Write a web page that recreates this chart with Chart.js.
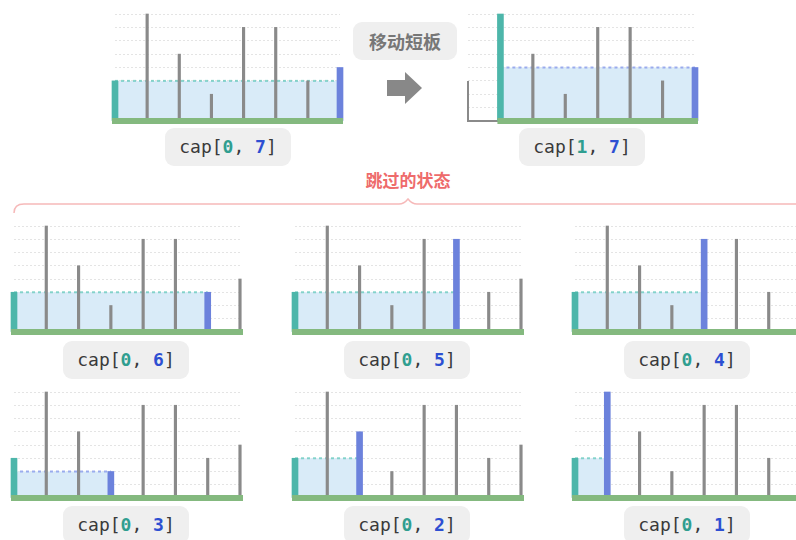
<!DOCTYPE html>
<html>
<head>
<meta charset="utf-8">
<script src="https://cdn.jsdelivr.net/npm/chart.js@4.4.0/dist/chart.umd.min.js"></script>
<style>
  html, body { margin: 0; padding: 0; background: #fff; }
  body { width: 796px; height: 540px; position: relative; overflow: hidden; }
  canvas { position: absolute; }
  .cap {
    position: absolute; width: 126px; height: 38px; line-height: 38px;
    background: #efefef; border-radius: 9px; text-align: center;
    font-family: "DejaVu Sans Mono", monospace; font-size: 18px; color: #3a3a3a;
  }
  .cap .l { color: #2f9e90; font-weight: bold; }
  .cap .r { color: #2d4fd2; font-weight: bold; }
  .tag {
    position: absolute; left: 353px; top: 22px; width: 104px; height: 38px; line-height: 38px;
    background: #efefef; border-radius: 9px; text-align: center;
    font-family: "Noto Sans CJK SC", sans-serif; font-weight: bold; font-size: 18px; color: #777;
  }
  .skip {
    position: absolute; left: 308px; top: 167px; width: 200px; text-align: center;
    font-family: "Noto Sans CJK SC", sans-serif; font-weight: bold; font-size: 17px; color: #ee6b6b;
  }
  svg { position: absolute; left: 0; top: 0; }
</style>
</head>
<body>
<svg width="796" height="540">
  <polygon points="387,80 405,80 405,72 422,88 405,104 405,96 387,96" fill="#888"/>
  <path d="M14,213 Q14,204 24,204 L399,204 Q404,204 408,199 Q412,204 417,204 L800,204"
        fill="none" stroke="#f6b9b9" stroke-width="1.5"/>
</svg>
<div class="tag">移动短板</div>
<div class="skip">跳过的状态</div>

<script>
// bar heights, index 0..7
const heights = [3, 8, 5, 2, 7, 7, 3, 4];
const positions = [0, 1, 2, 3, 4, 5, 6, 7];
const levels = [0, 1, 2, 3, 4, 5, 6, 7, 8];

// one entry per panel
const leftPtr = [0, 1, 0, 0, 0, 0, 0, 0];
const rightPtr = [7, 7, 6, 5, 4, 3, 2, 1];
const removedBar = [null, 0, null, null, null, null, null, null];

// chart area of each panel on the page (left, right, top, bottom)
const panelBoxes = [
  [115, 340, 14, 121],
  [468, 695, 14, 121],
  [14, 240, 226, 332],
  [295, 521, 226, 332],
  [575, 801, 226, 332],
  [14, 240, 392, 498],
  [295, 521, 392, 498],
  [575, 801, 392, 498]
];
const labelBoxes = [
  [165, 128], [519, 128],
  [63, 341], [344, 341], [624, 341],
  [63, 506], [344, 506], [624, 506]
];

const teal = '#4db6aa';
const blue = '#6c82dc';
const gray = '#8a8a8a';
const green = '#84b97f';
const water = '#d9ebf8';
const tealDot = 'rgba(100,200,188,0.75)';
const blueDot = 'rgba(130,150,235,0.75)';

function makePanel(i) {
  const [L, R, T, B] = panelBoxes[i];
  const pad = 10;
  const cv = document.createElement('canvas');
  cv.width = R - L + 2 * pad;
  cv.height = B - T + 2 * pad;
  cv.style.left = (L - pad) + 'px';
  cv.style.top = (T - pad) + 'px';
  document.body.appendChild(cv);

  const l = leftPtr[i], r = rightPtr[i];
  const level = Math.min(heights[l], heights[r]);
  const dotColor = heights[l] <= heights[r] ? tealDot : blueDot;
  const rm = removedBar[i];

  const grayBars = positions
    .filter(k => k !== l && k !== r && k !== rm)
    .map(k => ({ x: k, y: heights[k] }));

  const datasets = [
    {
      type: 'line', order: 0, clip: false,
      data: [{ x: rm === null ? 0 : rm + 1, y: 0 }, { x: positions[positions.length - 1], y: 0 }],
      borderColor: green, borderWidth: 6, borderCapStyle: 'square', pointRadius: 0
    },
    {
      type: 'bar', order: 1, clip: false, grouped: false,
      data: [{ x: l, y: heights[l] }], backgroundColor: teal, barThickness: 6
    },
    {
      type: 'bar', order: 1, clip: false, grouped: false,
      data: [{ x: r, y: heights[r] }], backgroundColor: blue, barThickness: 6
    },
    {
      type: 'bar', order: 2, clip: false, grouped: false,
      data: grayBars, backgroundColor: gray, barThickness: 2.5
    },
    {
      type: 'line', order: 3, clip: false,
      data: [{ x: l, y: level }, { x: r, y: level }],
      borderColor: dotColor, borderWidth: 2, borderDash: [3, 3],
      backgroundColor: water, fill: 'origin', pointRadius: 0
    }
  ];
  if (rm !== null) {
    datasets.push({
      type: 'line', order: 1, clip: false,
      data: [{ x: rm, y: heights[rm] }, { x: rm, y: 0 }, { x: rm + 1, y: 0 }],
      borderColor: gray, borderWidth: 2, pointRadius: 0
    });
  }

  new Chart(cv, {
    type: 'bar',
    data: { datasets: datasets },
    options: {
      responsive: false,
      animation: false,
      layout: { padding: pad },
      plugins: { legend: { display: false }, tooltip: { enabled: false } },
      scales: {
        x: {
          type: 'linear', min: positions[0], max: positions[positions.length - 1],
          offset: false, display: false
        },
        y: {
          min: levels[0], max: levels[levels.length - 1],
          afterFit: s => { s.width = 0; },
          afterBuildTicks: s => { s.ticks = levels.map(v => ({ value: v })); },
          ticks: { display: false },
          border: { display: false, dash: [2, 2] },
          grid: { color: '#e4e4e4', lineWidth: 1, drawTicks: false }
        }
      }
    }
  });

  const [bx, by] = labelBoxes[i];
  const lab = document.createElement('div');
  lab.className = 'cap';
  lab.style.left = bx + 'px';
  lab.style.top = by + 'px';
  lab.innerHTML = 'cap[<span class="l">' + l + '</span>, <span class="r">' + r + '</span>]';
  document.body.appendChild(lab);
}

for (let i = 0; i < panelBoxes.length; i++) makePanel(i);
</script>
</body>
</html>
